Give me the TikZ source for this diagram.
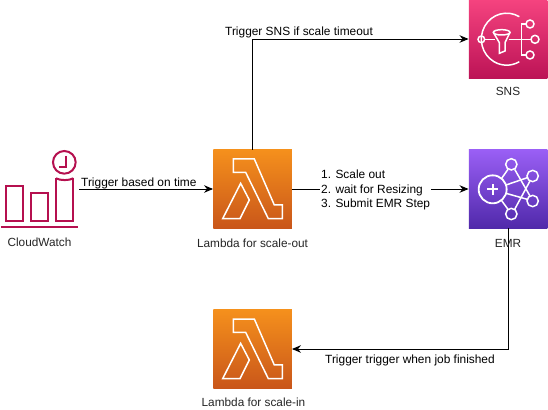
\documentclass[tikz,border=0pt]{standalone}
\usepackage{fontspec}
\setmainfont{Liberation Sans}
\usetikzlibrary{arrows.meta}
\definecolor{cwpink}{HTML}{B5104F}
\definecolor{lamtop}{HTML}{F5901C}
\definecolor{lambot}{HTML}{C9561A}
\definecolor{snstop}{HTML}{F5437F}
\definecolor{snsbot}{HTML}{BC1356}
\definecolor{emrtop}{HTML}{9A5FF5}
\definecolor{emrbot}{HTML}{5029AA}
\tikzset{
  x=1pt,y=-1pt,
  iconbox/.style={minimum width=78.5pt,minimum height=78.5pt,inner sep=0pt,draw=none},
  conn/.style={draw=black,line width=0.9pt,-{Stealth[length=9pt,width=7.5pt]}},
  lbl/.style={font=\fontsize{11.8}{13}\selectfont,text=black!85,inner sep=0pt,anchor=center},
  lblleft/.style={font=\fontsize{11.9}{13}\selectfont,text=black,inner sep=0pt,anchor=west},
  glyph/.style={draw=white,line width=1.5pt,line join=miter},
  cwglyph/.style={draw=cwpink,line width=2pt}
}
\newcommand{\lambdaglyph}[2]{%
  \begin{scope}[shift={(#1,#2)},x=0.3333pt,y=-0.3333pt]
    \draw[glyph] (85,57) -- (148,57) -- (208,195) -- (232,195) -- (232,236) -- (190,236) -- (122,97) -- (85,97) -- cycle;
    \draw[glyph] (53,236) -- (107,130) -- (133,180) -- (105,236) -- cycle;
  \end{scope}}
\begin{document}
\begin{tikzpicture}
\useasboundingbox (0,0) rectangle (548,409);
\fill[white] (0,0) rectangle (548,409);
% icon boxes
\node[iconbox,top color=snstop,bottom color=snsbot] (sns) at (508,39) {};
\node[iconbox,top color=emrtop,bottom color=emrbot] (emr) at (508,189) {};
\node[iconbox,top color=lamtop,bottom color=lambot] (lup) at (252.5,189) {};
\node[iconbox,top color=lamtop,bottom color=lambot] (ldown) at (252.5,349) {};
\node[minimum width=79pt,minimum height=78pt,inner sep=0pt] (cw) at (39.5,189) {};
% lambda glyphs
\lambdaglyph{205}{140}
\lambdaglyph{205}{300}
% SNS glyph
\begin{scope}[shift={(450,0)},x=0.3333pt,y=-0.3333pt]
  \draw[glyph] (208,50) arc[start angle=60,end angle=300,x radius=76,y radius=-78];
  \draw[glyph] (94,118) circle[radius=10];
  \draw[glyph] (240,72) circle[radius=12];
  \draw[glyph] (255,118) circle[radius=12];
  \draw[glyph] (240,165) circle[radius=12];
  \draw[glyph] (104,118) -- (135,118);
  \draw[glyph] (178,118) -- (243,118);
  \draw[glyph] (228,72) -- (215,72) -- (215,165) -- (228,165);
  \draw[glyph] (155,97) ellipse[x radius=25,y radius=8];
  \draw[glyph] (130,97) -- (148,128) -- (148,160) -- (165,153) -- (165,128) -- (180,97);
\end{scope}
% EMR glyph
\begin{scope}[shift={(450,140)},x=0.3333pt,y=-0.3333pt]
  \draw[glyph,line width=1.8pt] (128,148) circle[radius=42];
  \draw[glyph,line width=1.8pt] (112,148) -- (144,148) (128,132) -- (128,164);
  \draw[glyph] (184,73) circle[radius=17];
  \draw[glyph] (248,108) circle[radius=17];
  \draw[glyph] (248,183) circle[radius=17];
  \draw[glyph] (184,222) circle[radius=17];
  \draw[glyph] (155,115) -- (174,88);
  \draw[glyph] (168,135) -- (232,113);
  \draw[glyph] (168,160) -- (232,178);
  \draw[glyph] (155,182) -- (174,208);
  \draw[glyph] (194,88) -- (240,168);
  \draw[glyph] (194,208) -- (240,123);
\end{scope}
% CloudWatch glyph
\begin{scope}[shift={(0,140)},x=0.3333pt,y=-0.3333pt]
  \draw[cwglyph] (18,137) rectangle (70,243);
  \draw[cwglyph] (93,160) rectangle (145,243);
  \draw[cwglyph] (168,115) -- (168,243) -- (220,243) -- (220,115);
  \draw[cwglyph] (168,115) .. controls (180,122) and (208,122) .. (220,115);
  \draw[cwglyph] (3,262) -- (235,262);
  \draw[cwglyph] (193,67) circle[radius=34];
  \draw[cwglyph] (197,48) -- (197,82) -- (177,82);
\end{scope}
% connectors
\draw[conn] (cw) -- (lup);
\draw[conn] (lup) -- (emr);
\draw[conn] (lup.north) |- (sns.west);
\draw[conn] (emr.south) |- (ldown.east);
% labels
\node[lbl] (tcw) at (39.5,242) {CloudWatch};
\node[lbl] (tlup) at (252.5,243) {Lambda for scale-out};
\node[lbl] (tldown) at (253.5,402.5) {Lambda for scale-in};
\node[lbl] (tsns) at (508,91) {SNS};
\node[lbl] (temr) at (508,243) {EMR};
\node[lblleft] (t1) at (225,32) {Trigger SNS if scale timeout};
\node[lblleft] (t2) at (81,183) {Trigger based on time};
\node[lblleft,fill=white,inner xsep=1pt,inner ysep=0pt,align=left,font=\fontsize{11.9}{14.5}\selectfont] (t3) at (320,190) {1. Scale out\\2. wait for Resizing\\3. Submit EMR Step};
\node[lblleft] (t6) at (325,360) {Trigger trigger when job finished};
\end{tikzpicture}
\end{document}
